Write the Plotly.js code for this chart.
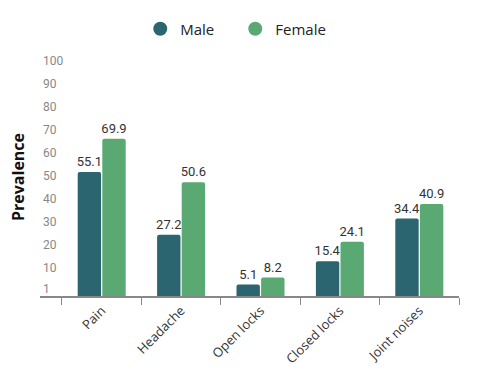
<!DOCTYPE html>
<html>
<head>
<meta charset="utf-8">
<script src="https://cdn.plot.ly/plotly-3.0.1.min.js"></script>
<style>html,body{margin:0;padding:0;background:#fff;}#chart{width:477px;height:379px;}</style>
</head>
<body>
<div id="chart"></div>
<script>
var categories = ["Pain", "Headache", "Open locks", "Closed locks", "Joint noises"];
var maleValues = [55.1, 27.2, 5.1, 15.4, 34.4];
var femaleValues = [69.9, 50.6, 8.2, 24.1, 40.9];
var seriesNames = ["Male", "Female"];
var yTickValues = [1, 10, 20, 30, 40, 50, 60, 70, 80, 90, 100];
var yTickLabels = ["1", "10", "20", "30", "40", "50", "60", "70", "80", "90", "100"];

var maleColor = "#2a6570";
var femaleColor = "#5aa872";

function barTrace(name, vals, color) {
  return {
    type: "bar", name: name, x: categories, y: vals,
    marker: {color: color},
    text: vals.map(function(v){ return v.toFixed(1); }),
    textposition: "outside", cliponaxis: false, constraintext: "none",
    textfont: {family: "Roboto", size: 13, color: "#333"},
    showlegend: false, hoverinfo: "skip"
  };
}
function legendTrace(name, color) {
  return {
    type: "scatter", mode: "markers", name: name,
    x: [categories[0]], y: [null], yaxis: "y2",
    marker: {color: color, size: 14, symbol: "circle"},
    hoverinfo: "skip"
  };
}

var data = [
  barTrace(seriesNames[0], maleValues, maleColor),
  barTrace(seriesNames[1], femaleValues, femaleColor),
  legendTrace(seriesNames[0], maleColor),
  legendTrace(seriesNames[1], femaleColor)
];

var layout = {
  width: 477, height: 379,
  margin: {l: 40, r: 18, t: 58, b: 83},
  paper_bgcolor: "#fff", plot_bgcolor: "#fff",
  barmode: "group", bargap: 0.38, bargroupgap: 0.05,
  barcornerradius: 2,
  showlegend: true,
  legend: {orientation: "h", x: 0.466, xanchor: "center", y: 1.122, yanchor: "middle",
           entrywidth: 50,
           font: {family: "Open Sans", size: 15, color: "#222"}},
  xaxis: {
    type: "category", range: [-0.777, 4.5], tickson: "boundaries",
    ticks: "outside", ticklen: 7, tickcolor: "#888", tickwidth: 1,
    showline: true, linecolor: "#888", linewidth: 2,
    tickangle: -45, tickfont: {family: "Open Sans", size: 13, color: "#333"},
    showgrid: false, zeroline: false, fixedrange: true
  },
  yaxis: {range: [0, 105.8], visible: false, fixedrange: true},
  yaxis2: {
    overlaying: "y", side: "left", range: [-2.3, 101.2],
    tickmode: "array", tickvals: yTickValues, ticktext: yTickLabels,
    ticklabelposition: "inside", ticklabeloverflow: "allow", ticks: "",
    tickfont: {family: "Roboto", size: 12, color: "#888"},
    showgrid: false, zeroline: false, showline: false, fixedrange: true,
    title: {text: "Prevalence", standoff: 14, font: {family: "Open Sans", size: 16, color: "#111", weight: "bold"}}
  }
};

Plotly.newPlot("chart", data, layout, {displayModeBar: false, staticPlot: true});
</script>
</body>
</html>
